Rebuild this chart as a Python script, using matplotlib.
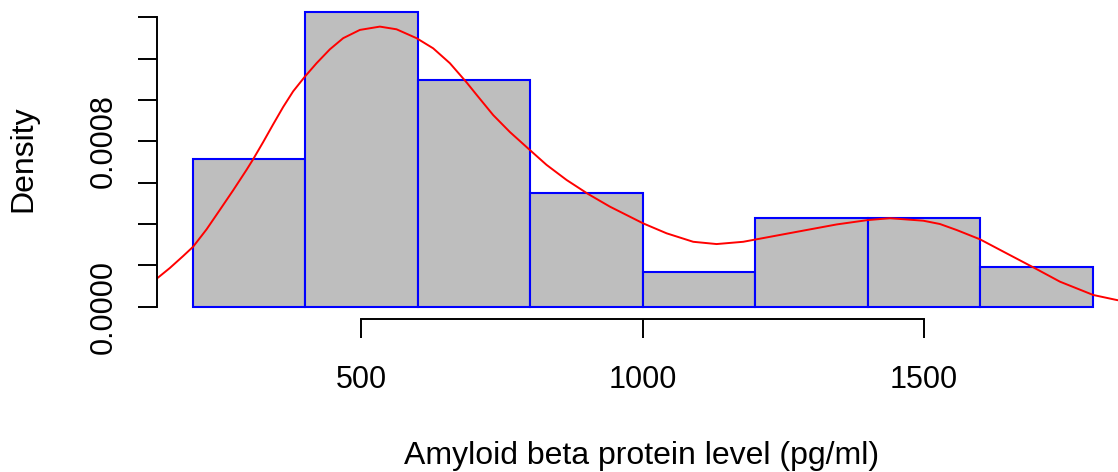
import numpy as np
import matplotlib
matplotlib.use("Agg")
import matplotlib.pyplot as plt

plt.rcParams['font.family'] = ['Liberation Sans', 'DejaVu Sans']

# histogram: breaks and densities
breaks = [200, 400, 600, 800, 1000, 1200, 1400, 1600, 1800]
density = [0.000713, 0.001426, 0.001095, 0.000549, 0.000166, 0.000428, 0.000428, 0.000191]

# density curve (red), read point by point
kde_x = [136.7, 159.3, 183.0, 200.7, 224.6, 248.2, 271.9, 295.7, 307.4, 325.2,
         343.0, 360.8, 378.6, 399.4, 420.2, 443.8, 467.5, 497.2, 532.7, 562.4,
         598.0, 627.5, 657.2, 686.9, 704.7, 734.2, 763.9, 799.4, 829.1, 864.7,
         903.1, 941.7, 1000.9, 1042.5, 1089.8, 1131.4, 1178.7, 1243.9, 1291.4,
         1345.0, 1399.9, 1439.6, 1498.8, 1528.4, 1558.1, 1599.6, 1647.0, 1697.4,
         1741.8, 1801.0, 1842.6, 1864.0]
kde_y = [0.000137, 0.000187, 0.000245, 0.000290, 0.000374, 0.000468, 0.000563,
         0.000662, 0.000713, 0.000796, 0.000882, 0.000966, 0.001042, 0.001113,
         0.001178, 0.001245, 0.001299, 0.001339, 0.001355, 0.001342, 0.001299,
         0.001250, 0.001178, 0.001085, 0.001025, 0.000927, 0.000845, 0.000758,
         0.000686, 0.000613, 0.000545, 0.000484, 0.000403, 0.000355, 0.000314,
         0.000303, 0.000314, 0.000347, 0.000371, 0.000398, 0.000419, 0.000428,
         0.000416, 0.000400, 0.000371, 0.000326, 0.000258, 0.000186, 0.000121,
         0.0000566, 0.0000324, 0.000022]

y_ticks = [0, 0.0002, 0.0004, 0.0006, 0.0008, 0.0010, 0.0012, 0.0014]
y_labels = ['0.0000', '', '', '', '0.0008', '', '', '']
x_ticks = [500, 1000, 1500]

W, H = 1118, 472
fig = plt.figure(figsize=(W / 100, H / 100), dpi=100)

# plot region in pixels (R style, partly outside the figure)
left, right, top, bottom = 156.7, 1128.7, -7.5, 319.3
ax = fig.add_axes([left / W, 1 - bottom / H, (right - left) / W, (bottom - top) / H])
ax.set_xlim(136, 1864)
ax.set_ylim(-0.000061, 0.00152)
ax.patch.set_alpha(0)

lefts = breaks[:-1]
widths = np.diff(breaks)
ax.bar(lefts, density, width=widths, align='edge', color='#BEBEBE',
       edgecolor='#0000FF', linewidth=1.5)
ax.plot(kde_x, kde_y, color='#FF0000', linewidth=1.4, solid_joinstyle='round')

for s in ['top', 'right']:
    ax.spines[s].set_visible(False)
ax.spines['left'].set_bounds(0, 0.0014)
ax.spines['bottom'].set_bounds(500, 1500)
for s in ['left', 'bottom']:
    ax.spines[s].set_linewidth(1.4)

ax.set_yticks(y_ticks, labels=y_labels)
ax.set_xticks(x_ticks, labels=[str(v) for v in x_ticks])
ax.tick_params(axis='both', length=14, width=1.4, labelsize=22)
ax.tick_params(axis='x', pad=19)
ax.tick_params(axis='y', pad=13)
for lab in ax.get_yticklabels():
    lab.set_rotation(90)
    lab.set_va('center')

fig.text(23 / W, 1 - 158.5 / H, 'Density', rotation=90, ha='center', va='center', fontsize=23)
fig.text(641.5 / W, 1 - 456 / H, 'Amyloid beta protein level (pg/ml)',
         ha='center', va='center', fontsize=23)

fig.savefig('out.png', dpi=100)
